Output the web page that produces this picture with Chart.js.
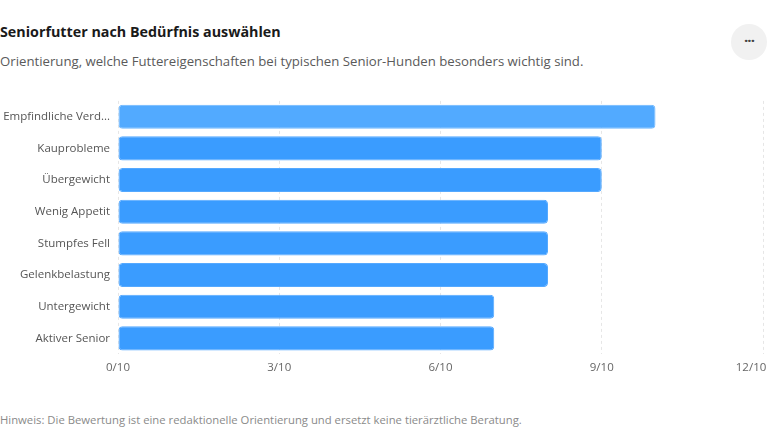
<!DOCTYPE html>
<html>
<head>
<meta charset="utf-8">
<script src="https://cdn.jsdelivr.net/npm/chart.js@4/dist/chart.umd.min.js"></script>
<style>
  html, body { margin: 0; padding: 0; background: #fff; }
  body { width: 768px; height: 432px; position: relative; overflow: hidden; font-family: "Open Sans", "Noto Sans", sans-serif; }
  #title { position: absolute; left: 0; top: 22px; font-size: 14.3px; font-weight: 700; color: #1a1a1a; }
  #subtitle { position: absolute; left: 0; top: 52px; font-size: 13.2px; color: #5a5a5a; }
  #menu { position: absolute; left: 731px; top: 24px; width: 36px; height: 36px; border-radius: 50%; background: #f1f1f1;
          color: #444; font-size: 15px; font-weight: 700; line-height: 32px; text-align: center; letter-spacing: -1px; }
  #wrap { position: absolute; left: 0; top: 86px; width: 768px; height: 311px; }
  #note { position: absolute; left: 0; top: 412px; font-size: 11.3px; color: #8a8a8a; }
</style>
</head>
<body>
<div id="title">Seniorfutter nach Bedürfnis auswählen</div>
<div id="subtitle">Orientierung, welche Futtereigenschaften bei typischen Senior-Hunden besonders wichtig sind.</div>
<div id="menu">···</div>
<div id="wrap"><canvas id="chart"></canvas></div>
<div id="note">Hinweis: Die Bewertung ist eine redaktionelle Orientierung und ersetzt keine tierärztliche Beratung.</div>

<script>
// data
var needs = ['Empfindliche Verdauung', 'Kauprobleme', 'Übergewicht', 'Wenig Appetit',
             'Stumpfes Fell', 'Gelenkbelastung', 'Untergewicht', 'Aktiver Senior'];
var scores = [10, 9, 9, 8, 8, 8, 7, 7];
var maxScore = 10;
var tickValues = [0, 3, 6, 9, 12];

var barColors = scores.map(function(v, i) { return i == 0 ? '#52aaff' : '#3a9cff'; });
var borderColors = scores.map(function(v, i) { return i == 0 ? '#6db7ff' : '#55a9ff'; });

function shortLabel(s) {
    if (s.length > 17) return s.substring(0, 17) + '...';
    return s;
}

var labelFont = { family: '"Open Sans", "Noto Sans", sans-serif', size: 11.5 };

var ctx = document.getElementById('chart').getContext('2d');
var chart = new Chart(ctx, {
    type: 'bar',
    data: {
        labels: needs,
        datasets: [{
            data: scores,
            backgroundColor: barColors,
            borderColor: borderColors,
            borderWidth: 1,
            borderRadius: 4,
            borderSkipped: false,
            barPercentage: 0.76,
            categoryPercentage: 1
        }]
    },
    options: {
        indexAxis: 'y',
        responsive: true,
        maintainAspectRatio: false,
        animation: false,
        layout: { padding: { top: 0, bottom: 15, left: 0, right: 0 } },
        plugins: {
            legend: { display: false },
            tooltip: { enabled: false }
        },
        scales: {
            x: {
                min: 0,
                max: 12,
                afterBuildTicks: function(scale) {
                    scale.ticks = tickValues.map(function(v) { return { value: v }; });
                },
                afterFit: function(scale) {
                    scale.paddingRight = 5;
                },
                grid: { color: '#e6e6e6', drawTicks: false, lineWidth: 1 },
                border: { display: false, dash: [3, 3] },
                ticks: {
                    padding: 7,
                    color: '#666',
                    font: labelFont,
                    callback: function(v) {
                        var s = v + '/' + maxScore;
                        if (v == 12) s = s + '\u00a0\u00a0\u00a0\u00a0\u00a0\u00a0\u00a0\u00a0';
                        return s;
                    }
                }
            },
            y: {
                afterFit: function(scale) { scale.width = 118; },
                grid: { display: false, drawTicks: false },
                border: { display: false },
                ticks: {
                    padding: 8,
                    color: '#555',
                    font: labelFont,
                    callback: function(v) { return shortLabel(this.getLabelForValue(v)); }
                }
            }
        }
    }
});
</script>
</body>
</html>
